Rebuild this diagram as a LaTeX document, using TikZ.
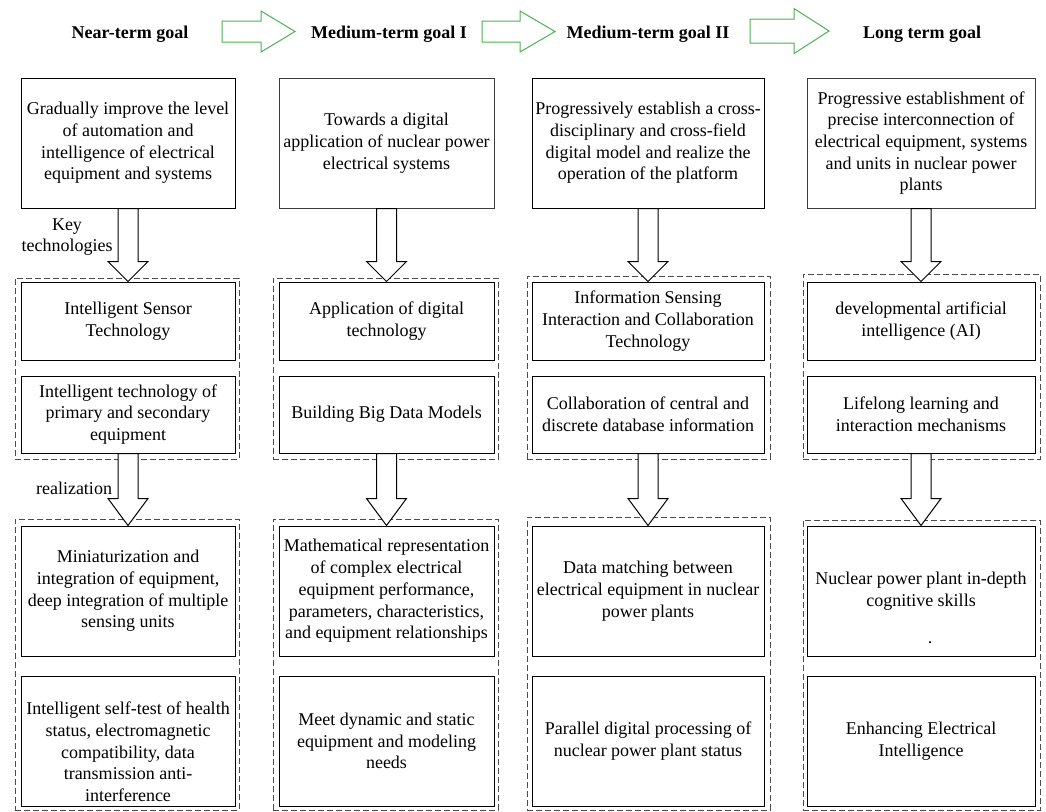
\documentclass[tikz,border=0pt]{standalone}
\usepackage{fontspec}
\setmainfont{Liberation Serif}
\usetikzlibrary{calc}
\definecolor{arrgreen}{RGB}{76,178,82}
\definecolor{dashgray}{RGB}{75,75,75}
\definecolor{boxgray}{RGB}{60,60,60}
\tikzset{
  txtfont/.style={font=\fontsize{18}{21.7}\selectfont},
  box/.style={draw=black, line width=1pt, rectangle, inner sep=0pt, align=center, txtfont},
  graybox/.style={box, draw=boxgray},
  grp/.style={draw=dashgray, line width=1pt, dash pattern=on 6pt off 3pt, rectangle, inner sep=0pt},
  headtxt/.style={font=\fontsize{18}{21.7}\selectfont\bfseries, inner sep=0pt},
  lbl/.style={txtfont, align=center, inner sep=0pt},
  blockarrow/.style={draw=black, line width=1pt, fill=white, line join=miter},
  goalarrow/.style={draw=arrgreen, line width=1pt, fill=white, line join=miter},
}
% block arrow from node #1 (south) to node #2 (north), head length #3
\newcommand\blockarr[3]{%
  \draw[blockarrow] ($(#1.south)+(-10,0)$) -- ($(#2.north)+(-10,-#3)$) -- ($(#2.north)+(-20,-#3)$)
    -- (#2.north) -- ($(#2.north)+(20,-#3)$) -- ($(#2.north)+(10,-#3)$) -- ($(#1.south)+(10,0)$) -- cycle;}
% green goal arrow: #1 start coord, #2 tip coord, #3 head length, #4 shaft half width, #5 head half width
\newcommand\goalarr[5]{%
  \draw[goalarrow] ($(#1)+(0,-#4)$) -- ($(#2)+(-#3,-#4)$) -- ($(#2)+(-#3,-#5)$) -- (#2)
    -- ($(#2)+(-#3,#5)$) -- ($(#2)+(-#3,#4)$) -- ($(#1)+(0,#4)$) -- cycle;}
\begin{document}
\begin{tikzpicture}[x=1pt,y=-1pt]
\useasboundingbox (0,0) rectangle (1046,811);

% headers
\node[headtxt] (h1) at (130,34) {Near-term goal};
\node[headtxt] (h2) at (389,34) {Medium-term goal I};
\node[headtxt] (h3) at (648,34) {Medium-term goal II};
\node[headtxt] (h4) at (922,34) {Long term goal};

\coordinate (a1s) at (222,31.5);
\coordinate (a1t) at (295,31.5);
\coordinate (a2s) at (482,31.5);
\coordinate (a2t) at (555,31.5);
\coordinate (a3s) at (750,31);
\coordinate (a3t) at (829,31);
\goalarr{a1s}{a1t}{34}{10.5}{20.5}
\goalarr{a2s}{a2t}{35}{10.5}{20.5}
\goalarr{a3s}{a3t}{35}{12}{22.5}

% dashed groups
\node[grp, minimum width=224, minimum height=181] (g11) at (127,368.5) {};
\node[grp, minimum width=225, minimum height=181] (g21) at (385.5,368.5) {};
\node[grp, minimum width=243, minimum height=183] (g31) at (648.5,367.5) {};
\node[grp, minimum width=237, minimum height=185] (g41) at (921.5,366.5) {};
\node[grp, minimum width=224, minimum height=291] (g12) at (127,664.5) {};
\node[grp, minimum width=225, minimum height=291] (g22) at (385.5,664.5) {};
\node[grp, minimum width=243, minimum height=293] (g32) at (648.5,663.5) {};
\node[grp, minimum width=237, minimum height=290] (g42) at (921.5,665) {};

% top boxes
\node[box, minimum width=214, minimum height=130] (t1) at (128,143)
  {Gradually improve the level\\of automation and\\intelligence of electrical\\equipment and systems};
\node[graybox, minimum width=215, minimum height=130] (t2) at (386.5,143)
  {Towards a digital\\application of nuclear power\\electrical systems};
\node[box, minimum width=232, minimum height=130] (t3) at (648,143)
  {Progressively establish a cross-\\disciplinary and cross-field\\digital model and realize the\\operation of the platform};
\node[graybox, minimum width=228, minimum height=130] (t4) at (921,143)
  {Progressive establishment of\\precise interconnection of\\electrical equipment, systems\\and units in nuclear power\\plants};

% row 1
\node[box, minimum width=214, minimum height=78] (b11) at (128,321) {Intelligent Sensor\\Technology};
\node[box, minimum width=215, minimum height=78] (b21) at (386.5,321) {Application of digital\\technology};
\node[box, minimum width=232, minimum height=78] (b31) at (648,321) {Information Sensing\\Interaction and Collaboration\\Technology};
\node[box, minimum width=228, minimum height=78] (b41) at (921,321) {developmental artificial\\intelligence (AI)};

% row 2
\node[box, minimum width=214, minimum height=77] (b12) at (128,414.5) {Intelligent technology of\\primary and secondary\\equipment};
\node[box, minimum width=215, minimum height=77] (b22) at (386.5,414.5) {Building Big Data Models};
\node[box, minimum width=232, minimum height=77] (b32) at (648,414.5) {Collaboration of central and\\discrete database information};
\node[box, minimum width=228, minimum height=77] (b42) at (921,414.5) {Lifelong learning and\\interaction mechanisms};

% row 3
\node[box, minimum width=214, minimum height=130] (b13) at (128,591) {Miniaturization and\\integration of equipment,\\deep integration of multiple\\sensing units};
\node[box, minimum width=215, minimum height=130] (b23) at (386.5,591) {Mathematical representation\\of complex electrical\\equipment performance,\\parameters, characteristics,\\and equipment relationships};
\node[box, minimum width=232, minimum height=130] (b33) at (648,591) {Data matching between\\electrical equipment in nuclear\\power plants};
\node[box, minimum width=228, minimum height=130] (b43) at (921,591) {Nuclear power plant in-depth\\cognitive skills};
\node[lbl] (dot) at (930,643) {.};

% row 4
\node[box, minimum width=214, minimum height=130] (b14) at (128,741) {};
\node[lbl] (b14t) at (128,752) {Intelligent self-test of health\\status, electromagnetic\\compatibility, data\\transmission anti-\\interference};
\node[box, minimum width=215, minimum height=130] (b24) at (386.5,741) {Meet dynamic and static\\equipment and modeling\\needs};
\node[box, minimum width=232, minimum height=130] (b34) at (648,741) {Parallel digital processing of\\nuclear power plant status};
\node[box, minimum width=228, minimum height=130] (b44) at (921,741) {Enhancing Electrical\\Intelligence};

% block arrows
\blockarr{t1}{b11}{20}
\blockarr{t2}{b21}{20}
\blockarr{t3}{b31}{20}
\blockarr{t4}{b41}{20}
\blockarr{b12}{b13}{27}
\blockarr{b22}{b23}{27}
\blockarr{b32}{b33}{27}
\blockarr{b42}{b43}{27}

% labels
\node[lbl] (keytech) at (67,237) {Key\\technologies};
\node[lbl] (realiz) at (74,488) {realization};
\end{tikzpicture}
\end{document}
